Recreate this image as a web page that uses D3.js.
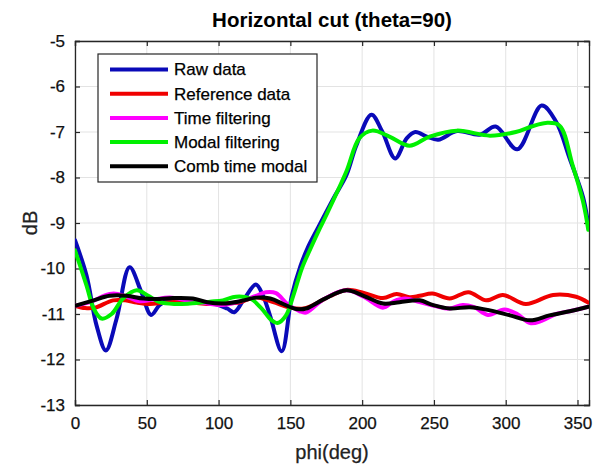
<!DOCTYPE html>
<html>
<head>
<meta charset="utf-8">
<script src="https://cdn.jsdelivr.net/npm/d3@7"></script>
<style>
  html, body { margin: 0; padding: 0; background: #fff; }
  svg { display: block; font-family: "Liberation Sans", Arial, sans-serif; }
</style>
</head>
<body>
<svg id="chart" width="606" height="464"></svg>
<script>
// ---- data (phi in degrees, values in dB) ----
const rawData = [[0,-9.38],[8,-10.15],[15,-11.25],[21.5,-11.8],[29,-11.1],[38,-9.97],[46,-10.5],[53,-11.02],[59,-10.8],[66,-10.68],[75,-10.7],[85,-10.72],[98,-10.78],[106,-10.88],[111,-10.96],[118,-10.66],[126,-10.35],[131,-10.6],[136,-11.05],[144,-11.82],[151,-10.6],[157,-9.95],[162,-9.55],[169,-9.12],[180,-8.46],[189,-7.95],[196,-7.29],[206.5,-6.62],[214,-6.99],[223,-7.58],[231,-7.14],[237,-7.0],[245,-7.1],[253,-7.17],[266,-6.98],[282,-7.06],[293,-6.88],[308,-7.38],[325,-6.42],[335,-6.77],[344.5,-7.58],[354,-8.45],[357.5,-9.05]];
const referenceData = [[0,-10.82],[7,-10.87],[14,-10.86],[26.5,-10.7],[35,-10.7],[43,-10.75],[52,-10.78],[62,-10.75],[75,-10.73],[91.6,-10.78],[103,-10.77],[115,-10.74],[126,-10.63],[138,-10.74],[150,-10.86],[159,-10.88],[168,-10.77],[178,-10.6],[189,-10.47],[200.6,-10.53],[214.5,-10.65],[224,-10.56],[233,-10.63],[240,-10.6],[249,-10.55],[261,-10.66],[274,-10.52],[286.5,-10.7],[298,-10.58],[314,-10.78],[333,-10.58],[349,-10.62],[357.5,-10.75]];
const timeFiltering = [[0,-10.82],[12,-10.72],[20,-10.6],[27,-10.55],[36,-10.62],[45,-10.72],[55,-10.68],[66,-10.64],[78,-10.7],[90,-10.76],[103,-10.8],[115,-10.72],[126,-10.6],[133,-10.52],[140,-10.54],[148,-10.78],[156.6,-10.94],[161,-10.97],[173,-10.68],[189,-10.48],[201,-10.62],[214.5,-10.86],[222,-10.72],[230,-10.66],[240,-10.74],[250,-10.82],[261,-10.88],[270,-10.8],[278,-10.85],[287.6,-11.02],[299,-10.9],[308,-11.0],[317,-11.2],[325,-11.15],[335,-11.0],[344.5,-10.94],[357.5,-10.84]];
const modalFiltering = [[0,-9.6],[8,-10.37],[13,-10.88],[18.5,-11.1],[25.5,-11.0],[33.5,-10.66],[43,-10.48],[51,-10.6],[59,-10.74],[70,-10.78],[80,-10.77],[94,-10.73],[103,-10.7],[112,-10.62],[122,-10.66],[130,-10.88],[137,-11.14],[141,-11.2],[147,-11.03],[152,-10.6],[158,-10.0],[163.5,-9.6],[170.5,-9.12],[175,-8.83],[189,-7.87],[198,-7.14],[207,-6.97],[219,-7.1],[233,-7.3],[247,-7.1],[266,-6.97],[289,-7.08],[307,-7.0],[318,-6.88],[328,-6.8],[337.5,-6.86],[346.5,-7.72],[354,-8.55],[357.5,-9.15]];
const combTimeModal = [[0,-10.82],[13,-10.7],[24,-10.6],[36,-10.6],[47.5,-10.66],[59,-10.67],[68,-10.65],[82,-10.66],[92,-10.74],[103,-10.77],[115,-10.72],[126,-10.64],[136,-10.66],[145,-10.78],[154,-10.89],[161,-10.88],[173,-10.68],[189,-10.48],[201,-10.6],[214.5,-10.77],[226,-10.74],[240,-10.7],[249,-10.8],[261,-10.88],[275,-10.85],[289,-10.92],[303,-11.03],[317,-11.14],[330.5,-11.03],[344.5,-10.94],[357.5,-10.84]];

const seriesNames = ["Raw data", "Reference data", "Time filtering", "Modal filtering", "Comb time modal"];
const seriesColors = ["#0a0ab8", "#f00000", "#ff00ff", "#00f000", "#000000"];
const seriesData = [rawData, referenceData, timeFiltering, modalFiltering, combTimeModal];

const xTicks = [0, 50, 100, 150, 200, 250, 300, 350];
const yTicks = [-13, -12, -11, -10, -9, -8, -7, -6, -5];

// ---- layout ----
const svg = d3.select("#chart");
const L = 75, R = 589, T = 41, B = 405;
const x = d3.scaleLinear().domain([0, 358]).range([L, R]);
const y = d3.scaleLinear().domain([-13, -5]).range([B, T]);

// grid
const grid = svg.append("g");
grid.selectAll("line.gx").data(xTicks).enter().append("line")
  .attr("x1", d => x(d)).attr("x2", d => x(d)).attr("y1", T).attr("y2", B)
  .attr("stroke", "#e3e3e3").attr("stroke-width", 1);
grid.selectAll("line.gy").data(yTicks).enter().append("line")
  .attr("x1", L).attr("x2", R).attr("y1", d => y(d)).attr("y2", d => y(d))
  .attr("stroke", "#e3e3e3").attr("stroke-width", 1);

// axes (ticks inward, MATLAB style)
const tickLen = 5;
const axB = svg.append("g").attr("transform", `translate(0,${B})`)
  .call(d3.axisBottom(x).tickValues(xTicks).tickSize(-tickLen).tickPadding(12).tickFormat(d3.format("d")));
const axT = svg.append("g").attr("transform", `translate(0,${T})`)
  .call(d3.axisTop(x).tickValues(xTicks).tickSize(-tickLen).tickFormat(""));
const axL = svg.append("g").attr("transform", `translate(${L},0)`)
  .call(d3.axisLeft(y).tickValues(yTicks).tickSize(-tickLen).tickPadding(10).tickFormat(d => d3.format("d")(d).replace("−", "-")));
const axR = svg.append("g").attr("transform", `translate(${R},0)`)
  .call(d3.axisRight(y).tickValues(yTicks).tickSize(-tickLen).tickFormat(""));
[axB, axT, axL, axR].forEach(a => {
  a.select(".domain").attr("stroke", "#262626").attr("stroke-width", 1.3);
  a.selectAll(".tick line").attr("stroke", "#262626").attr("stroke-width", 1.2);
  a.selectAll("text").attr("fill", "#111").style("font-size", "17px")
    .style("font-family", "'Liberation Sans', Arial, sans-serif")
    .attr("stroke", "#111").attr("stroke-width", 0.25);
});

// clip
svg.append("clipPath").attr("id", "clip").append("rect")
  .attr("x", L).attr("y", T).attr("width", R - L).attr("height", B - T);

const line = d3.line().x(d => x(d[0])).y(d => y(d[1])).curve(d3.curveCatmullRom.alpha(0.5));
const lines = svg.append("g").attr("clip-path", "url(#clip)");
seriesData.forEach((s, i) => {
  lines.append("path").datum(s).attr("d", line)
    .attr("fill", "none").attr("stroke", seriesColors[i]).attr("stroke-width", 4)
    .attr("stroke-linejoin", "round").attr("stroke-linecap", "round");
});

// legend
const lg = svg.append("g");
const lgX = 98, lgY = 54, lgW = 219, lgH = 128, rowH = 24.2;
lg.append("rect").attr("x", lgX).attr("y", lgY).attr("width", lgW).attr("height", lgH)
  .attr("fill", "#fff").attr("stroke", "#262626").attr("stroke-width", 1.2);
seriesNames.forEach((name, i) => {
  const cy = lgY + 15.5 + i * rowH;
  lg.append("line").attr("x1", lgX + 12).attr("x2", lgX + 70).attr("y1", cy).attr("y2", cy)
    .attr("stroke", seriesColors[i]).attr("stroke-width", 4);
  lg.append("text").attr("x", lgX + 76).attr("y", cy).attr("dy", "0.35em")
    .style("font-size", "17px").attr("fill", "#000").attr("stroke", "#000").attr("stroke-width", 0.25).text(name);
});

// title & labels
svg.append("text").attr("x", (L + R) / 2).attr("y", 27).attr("text-anchor", "middle")
  .style("font-size", "20.5px").style("font-weight", "bold").attr("fill", "#000")
  .text("Horizontal cut (theta=90)");
svg.append("text").attr("x", (L + R) / 2).attr("y", 459).attr("text-anchor", "middle")
  .style("font-size", "20px").attr("fill", "#222").attr("stroke", "#222").attr("stroke-width", 0.25).text("phi(deg)");
svg.append("text").attr("transform", `translate(37,${(T + B) / 2}) rotate(-90)`).attr("text-anchor", "middle")
  .style("font-size", "20px").attr("fill", "#222").attr("stroke", "#222").attr("stroke-width", 0.25).text("dB");
</script>
</body>
</html>
